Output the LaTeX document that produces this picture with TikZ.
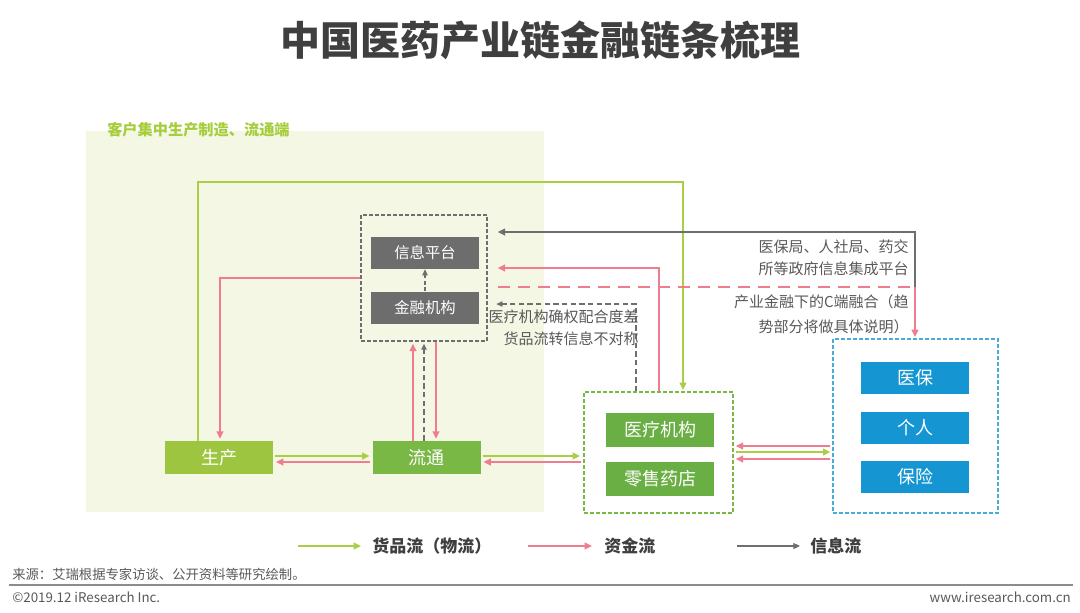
\documentclass[tikz,border=0pt]{standalone}
\usepackage{fontspec}
\setmainfont{Noto Sans CJK SC}
\usetikzlibrary{arrows.meta}
\definecolor{titlec}{HTML}{3F3F3F}
\definecolor{bgc}{HTML}{F3F7E4}
\definecolor{lgreen}{HTML}{A8CF45}
\definecolor{scg}{HTML}{9DC540}
\definecolor{ltg}{HTML}{7AB846}
\definecolor{medg}{HTML}{6AAF44}
\definecolor{pinkc}{HTML}{EF7D8D}
\definecolor{grayc}{HTML}{6E6E6E}
\definecolor{boxg}{HTML}{6D6D6D}
\definecolor{bluec}{HTML}{1596D3}
\definecolor{blued}{HTML}{4AAAD8}
\definecolor{textg}{HTML}{595959}
\definecolor{lblg}{HTML}{A6CD3C}
\definecolor{rulec}{HTML}{8C8C8C}
\begin{document}
\begin{tikzpicture}[x=0.75pt,y=-0.75pt,
  tip/.style={-{Triangle[length=5.5pt,width=5pt]}},
  flowbox/.style={minimum width=81pt,minimum height=24.75pt,inner sep=0pt,text=white,font=\fontsize{13.5}{16}\selectfont},
  graybox/.style={flowbox,fill=boxg,minimum height=24pt,font=\fontsize{11.5}{14}\selectfont},
  gflow/.style={draw=lgreen,line width=1.5pt,tip},
  pflow/.style={draw=pinkc,line width=1.5pt,tip},
  iflow/.style={draw=grayc,line width=1.8pt,tip},
  dflow/.style={draw=grayc,line width=1pt,dash pattern=on 4pt off 2.5pt,-{Triangle[length=4.5pt,width=4pt]}},
  groupbox/.style={inner sep=0pt,line width=1pt,dash pattern=on 3pt off 1.5pt},
  note/.style={text=textg,align=right,inner sep=0pt,font=\fontsize{11.25}{16.5}\selectfont},
  legendtext/.style={anchor=west,inner sep=0pt,text=titlec,font=\bfseries\fontsize{12.75}{14}\selectfont},
  foot/.style={inner sep=0pt,text=textg}
]
\fill[white] (0,0) rectangle (1080,612);
\useasboundingbox (0,0) rectangle (1080,612);

% title
\node[text=titlec,font=\bfseries\fontsize{30}{34}\selectfont] (title) at (540,40) {中国医药产业链金融链条梳理};

% background region
\fill[bgc] (86,131) rectangle (544,512);
\node[anchor=west,inner sep=0pt,text=lblg,font=\bfseries\fontsize{11.4}{13}\selectfont] (region) at (107,130) {客户集中生产制造、流通端};

% group boxes
\node[groupbox,draw=grayc,minimum width=94.5pt,minimum height=94.5pt] (fin) at (424,278) {};
\node[groupbox,draw=ltg,minimum width=111.75pt,minimum height=90.75pt] (med) at (658.5,452.5) {};
\node[groupbox,draw=blued,minimum width=123.75pt,minimum height=130.5pt] (pay) at (915.5,426) {};

% boxes
\node[graybox] (xx) at (425,253) {信息平台};
\node[graybox] (jr) at (425,307.5) {金融机构};
\node[flowbox,fill=scg] (sc) at (219,457.5) {生产};
\node[flowbox,fill=ltg] (lt) at (426.5,457.5) {流通};
\node[flowbox,fill=medg,minimum height=25.5pt] (yl) at (660,430) {医疗机构};
\node[flowbox,fill=medg,minimum height=25.5pt] (ls) at (660,478.5) {零售药店};
\node[flowbox,fill=bluec,minimum height=24pt] (yb) at (915,378) {医保};
\node[flowbox,fill=bluec,minimum height=24pt] (gr) at (915,427.5) {个人};
\node[flowbox,fill=bluec,minimum height=24pt] (bx) at (915,477) {保险};

% notes
\node[note,anchor=east] (n1) at (909,258) {医保局、人社局、药交\\所等政府信息集成平台};
\node[note,anchor=east,font=\fontsize{11.25}{19}\selectfont] (n2) at (909,314) {产业金融下的C端融合（趋\\势部分将做具体说明）};

% coordinates
\coordinate (gA) at (198,182);
\coordinate (gB) at (683,182);
\coordinate (pA) at (220,278);
\coordinate (yG) at (0,456);
\coordinate (yP) at (0,462);
\coordinate (v1) at (413,0);
\coordinate (v2) at (424,0);
\coordinate (v3) at (436,0);
\coordinate (h1) at (0,446);
\coordinate (h2) at (0,452);
\coordinate (h3) at (0,459);
\coordinate (mp) at (659,268);
\coordinate (md) at (636,304);
\coordinate (c1) at (915,287);
\coordinate (c2) at (915,232);

% connectors
\draw[gflow,line width=1.8pt,shorten >=1pt] (sc.north -| gA) -- (gA) -- (gB) -- (med.north -| gB);
\draw[pflow,shorten >=1.5pt] (fin.west |- pA) -- (pA) -- (sc.north -| pA);
\draw[gflow,shorten <=1.5pt,shorten >=2pt] (sc.east |- yG) -- (lt.west |- yG);
\draw[pflow,shorten <=1.5pt,shorten >=2pt] (lt.west |- yP) -- (sc.east |- yP);
\draw[gflow,shorten <=1.5pt,shorten >=2.5pt] (lt.east |- yG) -- (med.west |- yG);
\draw[pflow,shorten <=1.5pt,shorten >=2pt] (med.west |- yP) -- (lt.east |- yP);
\draw[pflow,shorten >=1.5pt] (lt.north -| v1) -- (fin.south -| v1);
\draw[dflow,shorten >=1.5pt] (lt.north -| v2) -- (fin.south -| v2);
\draw[pflow,shorten >=1.5pt] (fin.south -| v3) -- (lt.north -| v3);
\draw[pflow,shorten <=1.5pt,shorten >=1.5pt] (pay.west |- h1) -- (med.east |- h1);
\draw[gflow,shorten <=1.5pt,shorten >=1.5pt] (med.east |- h2) -- (pay.west |- h2);
\draw[pflow,shorten <=1.5pt,shorten >=1.5pt] (pay.west |- h3) -- (med.east |- h3);
\draw[dflow,dash pattern=on 3pt off 2pt,line width=0.8pt] (jr.north) -- (xx.south);
\draw[pflow,shorten >=7.5pt] (med.north -| mp) -- (mp) -- (fin.east |- mp);
\draw[dflow,shorten >=6.5pt] (med.north -| md) -- (md) -- (fin.east |- md);
\draw[iflow,shorten >=7.5pt] (c1) -- (c2) -- (fin.east |- c2);
\draw[draw=pinkc,line width=1.5pt,dash pattern=on 9pt off 6pt,shorten <=7.5pt] (fin.east |- c1) -- (c1);
\draw[pflow,shorten >=1pt] (c1) -- (pay.north -| c1);

\node[note,anchor=east,font=\fontsize{11.25}{16.5}\selectfont] (n3) at (639,328) {医疗机构确权配合度差\\货品流转信息不对称};

% legend
\coordinate (l1a) at (298,546); \coordinate (l1b) at (361,546);
\coordinate (l2a) at (528,546); \coordinate (l2b) at (592,546);
\coordinate (l3a) at (737,546); \coordinate (l3b) at (800,546);
\draw[gflow] (l1a) -- (l1b);
\draw[pflow] (l2a) -- (l2b);
\draw[draw=grayc,line width=0.8pt,-{Triangle[length=5pt,width=4.5pt]}] (l3a) -- (l3b);
\node[legendtext] (lg1) at (372,546) {货品流（物流）};
\node[legendtext] (lg2) at (604,546) {资金流};
\node[legendtext] (lg3) at (810,546) {信息流};

% footer
\node[foot,anchor=west,font=\fontsize{10}{11}\selectfont] (src) at (12,574) {来源：艾瑞根据专家访谈、公开资料等研究绘制。};
\coordinate (r1) at (9,585); \coordinate (r2) at (1073,585);
\draw[rulec,line width=1.2pt] (r1) -- (r2);
\node[foot,anchor=west,font=\fontsize{10}{12}\selectfont] (cp) at (12,597) {©2019.12 iResearch Inc.};
\node[foot,anchor=east,font=\fontsize{10}{12}\selectfont] (www) at (1071,597) {www.iresearch.com.cn};
\end{tikzpicture}
\end{document}
